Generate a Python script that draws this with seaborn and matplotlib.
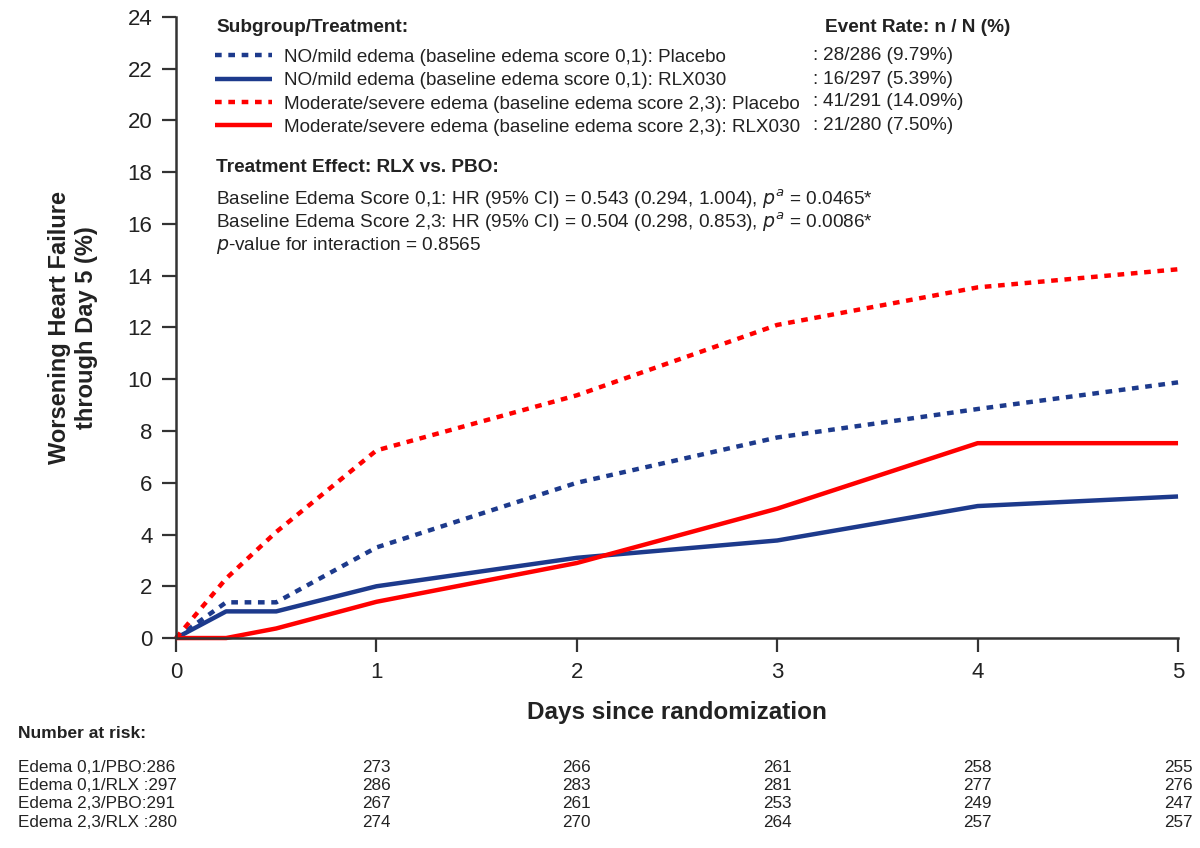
import numpy as np
import pandas as pd
import matplotlib.pyplot as plt
import seaborn as sns
from matplotlib.transforms import blended_transform_factory

# curve data (cumulative incidence, %)
days = [0, 0.25, 0.5, 1, 2, 3, 4, 5]
edema01_pbo = [0, 1.38, 1.38, 3.5, 6.0, 7.75, 8.85, 9.88]
edema01_rlx = [0, 1.03, 1.03, 2.0, 3.1, 3.77, 5.1, 5.47]
edema23_pbo = [0, 2.3, 4.1, 7.25, 9.38, 12.1, 13.55, 14.25]
edema23_rlx = [0, 0, 0.37, 1.4, 2.9, 5.0, 7.53, 7.53]

legend_labels = [
    "NO/mild edema (baseline edema score 0,1): Placebo",
    "NO/mild edema (baseline edema score 0,1): RLX030",
    "Moderate/severe edema (baseline edema score 2,3): Placebo",
    "Moderate/severe edema (baseline edema score 2,3): RLX030",
]
event_rates = ["28/286 (9.79%)", "16/297 (5.39%)", "41/291 (14.09%)", "21/280 (7.50%)"]

# number at risk
risk_labels = ["Edema 0,1/PBO:286", "Edema 0,1/RLX :297", "Edema 2,3/PBO:291", "Edema 2,3/RLX :280"]
risk_days = [1, 2, 3, 4, 5]
risk_pbo01 = [273, 266, 261, 258, 255]
risk_rlx01 = [286, 283, 281, 277, 276]
risk_pbo23 = [267, 261, 253, 249, 247]
risk_rlx23 = [274, 270, 264, 257, 257]

sns.set_style("ticks")
plt.rcParams['font.family'] = ['Liberation Sans', 'DejaVu Sans']

blue = "#1d3a8c"
red = "#ff0000"
dotted = (0, (1.5, 1.5))
txt = "#222222"
fs = 13.7

fig = plt.figure(figsize=(12, 8.48), dpi=100)
ax = fig.add_axes([0.1467, 0.2476, 0.835, 0.7324])

series = [edema01_pbo, edema01_rlx, edema23_pbo, edema23_rlx]
colors = [blue, blue, red, red]
styles = [dotted, "-", dotted, "-"]
for vals, col, ls, lab in zip(series, colors, styles, legend_labels):
    sns.lineplot(x=days, y=vals, ax=ax, color=col, linestyle=ls, linewidth=3.2,
                 label=lab, clip_on=False, dash_capstyle="butt", solid_capstyle="butt")

ax.set_xlim(0, 5)
ax.set_ylim(0, 24)
ax.set_xticks([0, 1, 2, 3, 4, 5])
ax.set_yticks(np.arange(0, 25, 2))
ax.tick_params(axis="both", labelsize=16, length=10, width=1.6, color="#333333",
               labelcolor=txt, direction="out", pad=7)
for s in ["left", "bottom"]:
    ax.spines[s].set_linewidth(1.8)
    ax.spines[s].set_color("#333333")
sns.despine(ax=ax)

ax.set_xlabel("Days since randomization", fontsize=17.5, fontweight="bold", va="center", color=txt)
ax.xaxis.set_label_coords(0.5, -0.12)
ax.set_ylabel("Worsening Heart Failure\nthrough Day 5 (%)", fontsize=17, fontweight="bold",
              va="center", color=txt)
ax.yaxis.set_label_coords(-0.103, 0.5)

# legend block
fig.text(0.18, 1 - 27 / 848, "Subgroup/Treatment:", fontsize=fs, fontweight="bold",
         va="center", color=txt)
leg = ax.legend(loc="upper left", bbox_to_anchor=(0.179, 1 - 48.5 / 848), bbox_transform=fig.transFigure,
                frameon=False, fontsize=13.6, handlelength=3.05, handletextpad=0.6,
                labelspacing=0.33, borderpad=0, borderaxespad=0)
for t in leg.get_texts():
    t.set_color(txt)

fig.text(0.6875, 1 - 27 / 848, "Event Rate: n / N (%)", fontsize=fs, fontweight="bold",
         va="center", color=txt)
for i, r in enumerate(event_rates):
    yy = 1 - (56 + i * 23) / 848
    fig.text(0.6767, yy, ":", fontsize=fs, va="center", color=txt)
    fig.text(0.6858, yy, r, fontsize=fs, va="center", color=txt)

fig.text(0.18, 1 - 168 / 848, "Treatment Effect: RLX vs. PBO:", fontsize=fs, fontweight="bold",
         va="center", color=txt)
fig.text(0.18, 1 - 199 / 848, "Baseline Edema Score 0,1: HR (95% CI) = 0.543 (0.294, 1.004), $p^{a}$ = 0.0465*",
         fontsize=fs, va="center", color=txt)
fig.text(0.18, 1 - 222 / 848, "Baseline Edema Score 2,3: HR (95% CI) = 0.504 (0.298, 0.853), $p^{a}$ = 0.0086*",
         fontsize=fs, va="center", color=txt)
fig.text(0.18, 1 - 245 / 848, "$p$-value for interaction = 0.8565", fontsize=fs, va="center", color=txt)

# number at risk table
trans = blended_transform_factory(ax.transData, fig.transFigure)
fig.text(0.015, 1 - 733 / 848, "Number at risk:", fontsize=12.5, fontweight="bold", va="center", color=txt)
for i, (lab, counts) in enumerate(zip(risk_labels, [risk_pbo01, risk_rlx01, risk_pbo23, risk_rlx23])):
    yy = 1 - (767 + i * 18.5) / 848
    fig.text(0.015, yy, lab, fontsize=12.3, va="center", color=txt)
    for d, c in zip(risk_days, counts):
        ax.text(d, yy, str(c), transform=trans, fontsize=12.3, ha="center", va="center", color=txt)

fig.savefig("out.png", dpi=100)
